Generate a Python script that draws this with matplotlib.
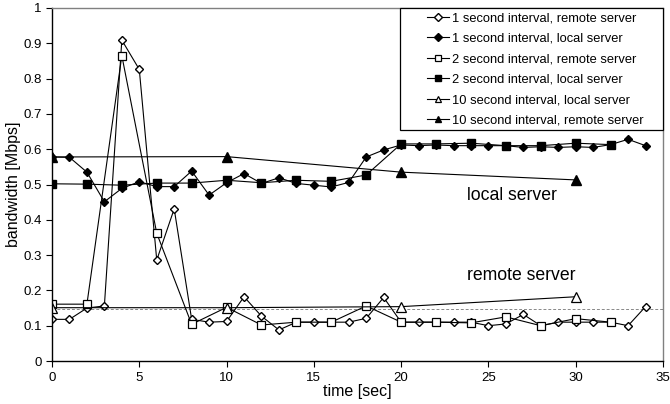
import numpy as np
import matplotlib
matplotlib.use('Agg')
import matplotlib.pyplot as plt
from matplotlib.patches import Rectangle

plt.rcParams['font.family'] = ['Liberation Sans', 'DejaVu Sans']

# 1 second interval
t1 = list(range(35))
remote_1s = [0.118, 0.118, 0.150, 0.156, 0.909, 0.826, 0.286, 0.431, 0.118, 0.110,
             0.112, 0.182, 0.127, 0.088, 0.110, 0.110, 0.110, 0.110, 0.121, 0.180,
             0.110, 0.110, 0.110, 0.110, 0.110, 0.100, 0.105, 0.132, 0.100, 0.110,
             0.110, 0.110, 0.110, 0.100, 0.154]
local_1s = [0.578, 0.577, 0.535, 0.451, 0.489, 0.508, 0.494, 0.494, 0.538, 0.470,
            0.505, 0.531, 0.503, 0.519, 0.503, 0.498, 0.493, 0.506, 0.578, 0.598,
            0.612, 0.610, 0.612, 0.610, 0.610, 0.610, 0.610, 0.605, 0.607, 0.605,
            0.607, 0.605, 0.613, 0.628, 0.610]

# 2 second interval
t2 = list(range(0, 33, 2))
remote_2s = [0.161, 0.161, 0.865, 0.362, 0.104, 0.152, 0.102, 0.110, 0.110, 0.156,
             0.110, 0.110, 0.108, 0.125, 0.100, 0.120, 0.110]
local_2s = [0.502, 0.501, 0.498, 0.504, 0.504, 0.512, 0.505, 0.512, 0.509, 0.527,
            0.615, 0.615, 0.617, 0.610, 0.610, 0.617, 0.613]

# 10 second interval
t10 = [0, 10, 20, 30]
open_10s = [0.151, 0.151, 0.154, 0.182]
filled_10s = [0.578, 0.579, 0.535, 0.513]

ref_level = 0.147

W, H = 670, 404
fig = plt.figure(figsize=(W / 100, H / 100), dpi=100)
ax = fig.add_axes([52 / W, (H - 361) / H, 611 / W, 353 / H])

ax.axhline(ref_level, color='#888888', lw=0.7, ls=(0, (3, 2)))

lw = 0.8
ax.plot(t1, remote_1s, '-', color='black', lw=lw, marker='D', ms=4.5,
        mfc='white', mec='black', mew=1.0, label='1 second interval, remote server')
ax.plot(t1, local_1s, '-', color='black', lw=lw, marker='D', ms=4.5,
        mfc='black', mec='black', label='1 second interval, local server')
ax.plot(t2, remote_2s, '-', color='black', lw=lw, marker='s', ms=6,
        mfc='white', mec='black', mew=0.9, label='2 second interval, remote server')
ax.plot(t2, local_2s, '-', color='black', lw=lw, marker='s', ms=6,
        mfc='black', mec='black', label='2 second interval, local server')
ax.plot(t10, open_10s, '-', color='black', lw=lw, marker='^', ms=6.5,
        mfc='white', mec='black', mew=0.9, label='10 second interval, local server')
ax.plot(t10, filled_10s, '-', color='black', lw=lw, marker='^', ms=6.5,
        mfc='black', mec='black', label='10 second interval, remote server')

ax.set_xlim(0, 35)
ax.set_ylim(0, 1)
ax.set_xticks(range(0, 36, 5))
ax.set_yticks(np.arange(0, 1.01, 0.1))
ax.set_yticklabels(['0', '0.1', '0.2', '0.3', '0.4', '0.5', '0.6', '0.7', '0.8', '0.9', '1'])
ax.tick_params(direction='out', length=4, width=0.8, labelsize=9.5, colors='black')
ax.tick_params(axis='x', pad=4)

for s in ['left', 'bottom']:
    ax.spines[s].set_color('black')
    ax.spines[s].set_linewidth(1.0)
for s in ['top', 'right']:
    ax.spines[s].set_color('#808080')
    ax.spines[s].set_linewidth(1.0)

ax.set_xlabel('time [sec]', fontsize=11.5, labelpad=0)
ax.set_ylabel('bandwidth [Mbps]', fontsize=11.5, labelpad=1.5)

ax.text(26.35, 0.47, 'local server', fontsize=12.7, ha='center', va='center')
ax.text(26.9, 0.241, 'remote server', fontsize=12.7, ha='center', va='center')

# legend box (frame drawn separately so the padding matches the original)
box = Rectangle((400 / W, (H - 130) / H), 263 / W, 122 / H, transform=fig.transFigure,
                facecolor='white', edgecolor='black', lw=0.9, zorder=4, clip_on=False)
ax.add_patch(box)
leg = ax.legend(loc='upper left', bbox_to_anchor=(427 / W, (H - 12) / H),
                bbox_transform=fig.transFigure, borderaxespad=0, borderpad=0,
                fontsize=9.3, frameon=False, handlelength=1.7,
                handletextpad=0.25, labelspacing=0.66)
leg.set_zorder(5)
for h in leg.legend_handles:
    h.set_markersize(4.5)

fig.savefig('out.png', dpi=100)
